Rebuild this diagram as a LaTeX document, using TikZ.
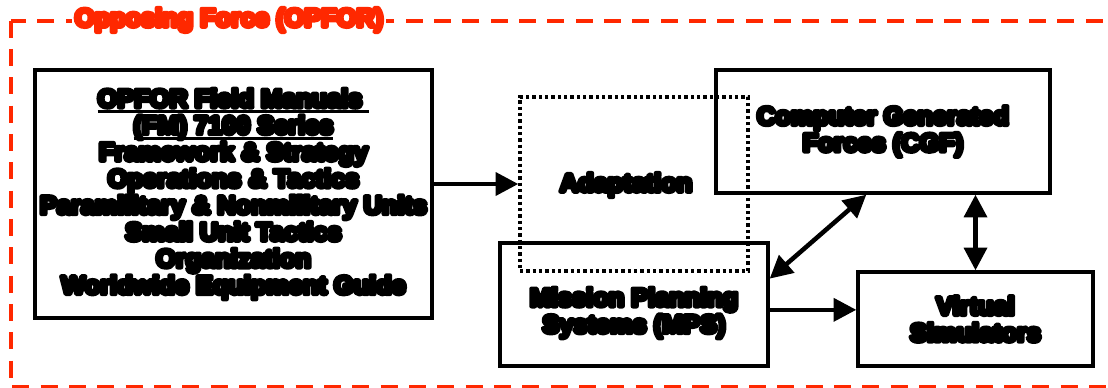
\documentclass[tikz,border=0pt]{standalone}
\usepackage{fontspec}
\setmainfont{Liberation Sans}
\font\heavy="Liberation Sans/B:embolden=18" at 19pt
\font\heavytitle="Liberation Sans/B:embolden=18" at 19pt
\newcommand{\fmunder}[1]{\leavevmode\setbox0=\hbox{#1}\rlap{\vrule height -2pt depth 4.5pt width \wd0}\box0}
\usetikzlibrary{arrows.meta}
\definecolor{opforred}{RGB}{255,40,0}

\begin{document}
\begin{tikzpicture}[x=0.75pt,y=-0.75pt,
	box/.style={draw, line width=2.5pt, inner sep=0pt},
	lbl/.style={align=center, line join=round, font={\fontsize{19}{20}\selectfont\heavy}},
	link/.style={line width=3.4pt, -{Triangle[length=17pt,width=17pt]}},
	twoway/.style={line width=3.4pt, {Triangle[length=17pt,width=17pt]}-{Triangle[length=17pt,width=17pt]}}]
	\useasboundingbox (0,0) rectangle (1108,387);
	% OPFOR frame
	\draw[opforred, line width=3pt, dash pattern=on 12.75pt off 8.5pt] (10.5,20.5) rectangle (1125,387);
	\node[fill=white, text=opforred, line join=round, font=\heavytitle, inner sep=2pt] (title) at (229,20) {Opposing Force (OPFOR)};
	% boxes
	\node[box, minimum width=297.75pt, minimum height=186pt] (fm) at (233.5,194) {};
	\node[lbl] (fmtext) at (fm) {\fmunder{OPFOR Field Manuals\ }\\ \fmunder{(FM) 7100 Series}\\ Framework \& Strategy\\ Operations \& Tactics\\ Paramilitary \& Nonmilitary Units\\ Small Unit Tactics\\ Organization\\ Worldwide Equipment Guide};
	\node[box, dash pattern=on 2.5pt off 2.25pt, minimum width=171pt, minimum height=130.5pt] (adapt) at (634,184) {};
	\node[lbl] (adapttext) at (626,185) {Adaptation};
	\node[box, minimum width=250.5pt, minimum height=92.25pt] (cgf) at (883,131.5) {};
	\node[lbl] (cgftext) at (cgf) {Computer Generated\\ Forces (CGF)};
	\node[box, minimum width=201pt, minimum height=92.25pt] (mps) at (634,304.5) {};
	\node[lbl] (mpstext) at (634,313) {Mission Planning\\ Systems (MPS)};
	\node[box, minimum width=176.25pt, minimum height=70.5pt] (virt) at (975.5,319) {};
	\node[lbl] (virttext) at (virt) {Virtual\\ Simulators};
	% connectors
	\draw[link] (fm.east |- adapt.west) -- (adapt.west);
	\draw[link] ([yshift=-4pt]mps.east) -- ([yshift=-4pt]mps.east -| virt.west);
	\draw[twoway] ([yshift=-28pt]mps.north east) -- ([xshift=-12.5pt]cgf.south);
	\draw[twoway] (virt.north |- cgf.south) -- (virt.north);
\end{tikzpicture}
\end{document}
